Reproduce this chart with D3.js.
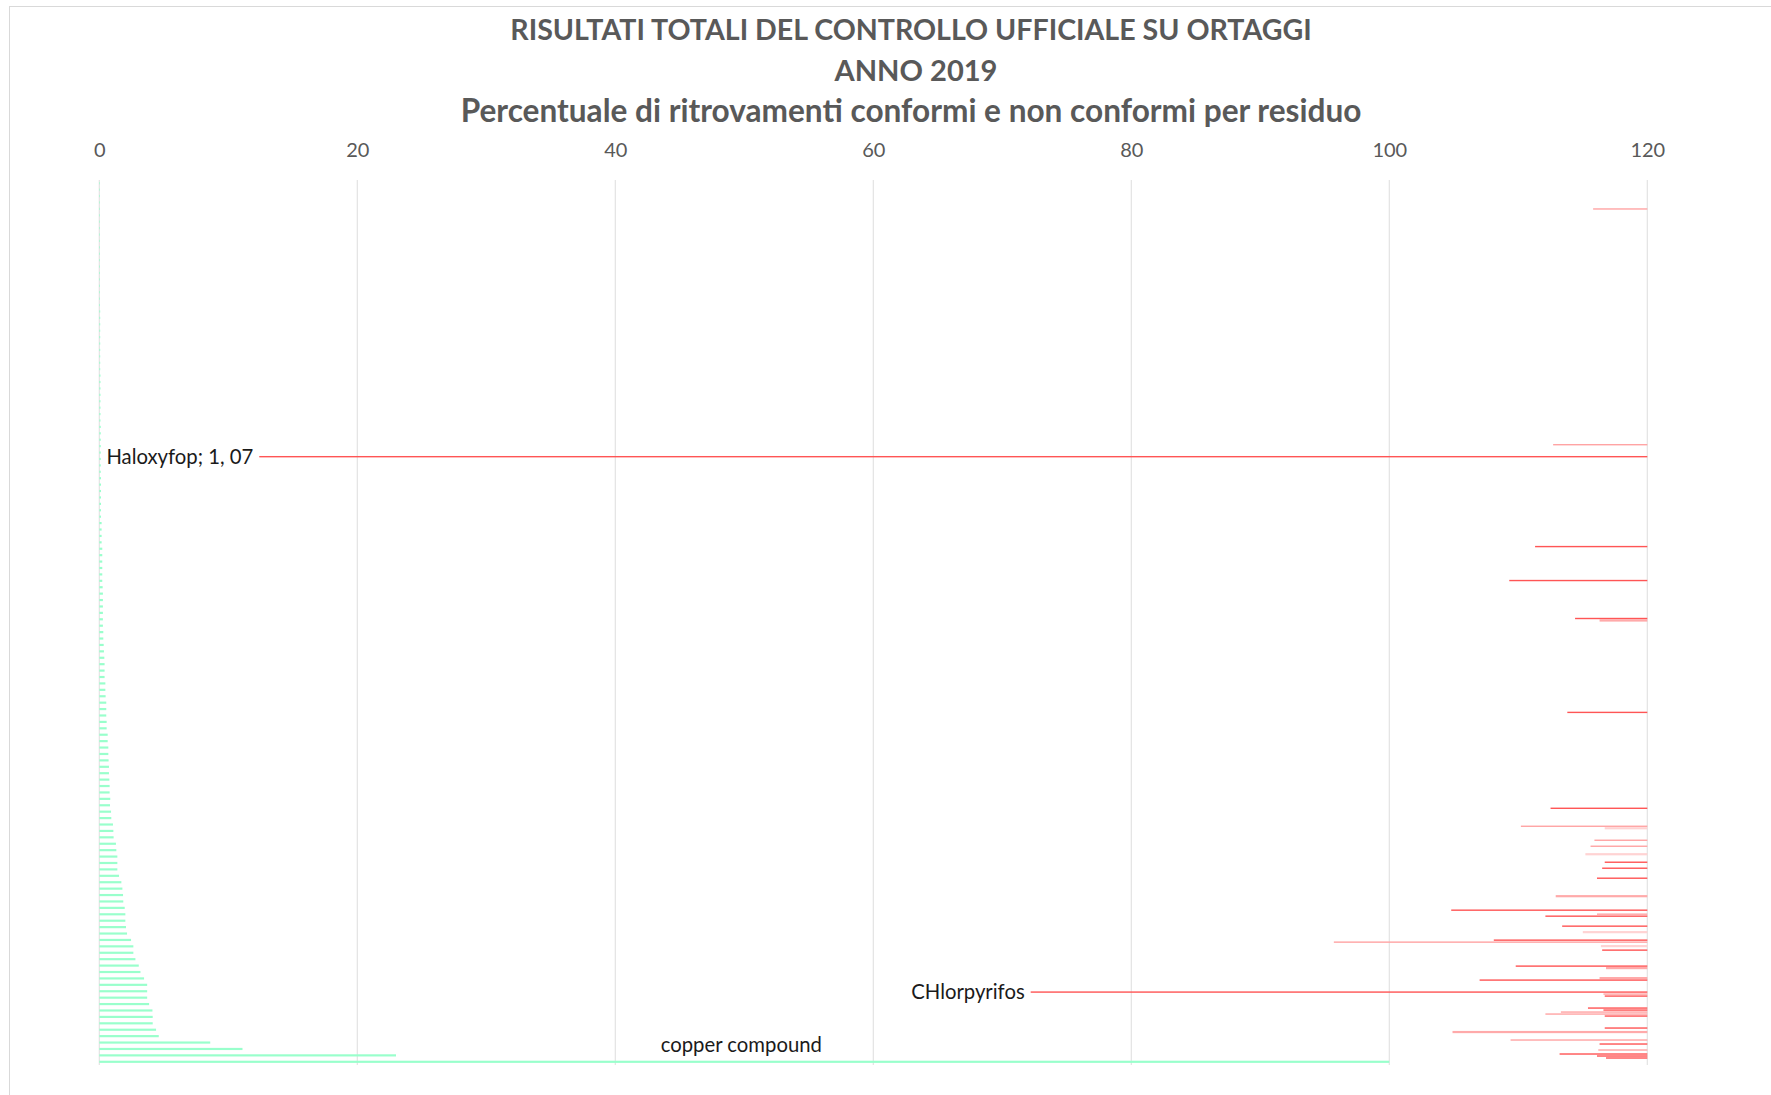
<!DOCTYPE html>
<html>
<head>
<meta charset="utf-8">
<script src="https://cdn.jsdelivr.net/npm/d3@7"></script>
<style>
  html, body { margin: 0; padding: 0; background: #ffffff; }
  svg { display: block; }
</style>
</head>
<body>
<svg id="chart" width="1771" height="1095"></svg>
<script>
// ---------------- DATA ----------------
const titleLines = [
  "RISULTATI TOTALI DEL CONTROLLO UFFICIALE SU ORTAGGI",
  "ANNO 2019",
  "Percentuale di ritrovamenti conformi e non conformi per residuo"
];
const xTicks = [0, 20, 40, 60, 80, 100, 120];

// Conformi (%), one value per residue, top to bottom (138 residues)
const conformi = [
  0.03, 0.03, 0.03, 0.03, 0.03, 0.03, 0.03, 0.03, 0.03, 0.03,
  0.05, 0.05, 0.05, 0.05, 0.05, 0.05, 0.05, 0.05, 0.05, 0.05,
  0.07, 0.07, 0.07, 0.07, 0.07, 0.07, 0.07, 0.07, 0.07, 0.07,
  0.09, 0.09, 0.09, 0.09, 0.09, 0.09, 0.09, 0.09,
  0.11, 0.11, 0.11, 0.11, 0.11, 0.11, 0.11, 0.11,
  0.13, 0.13, 0.13, 0.13, 0.13, 0.13, 0.13,
  0.18, 0.18, 0.18, 0.18, 0.23, 0.23, 0.23, 0.23, 0.23, 0.23,
  0.26, 0.28, 0.28, 0.28, 0.28, 0.28, 0.28, 0.31, 0.31, 0.34,
  0.36, 0.39, 0.41, 0.41, 0.41, 0.47, 0.47, 0.49, 0.54, 0.54,
  0.54, 0.57, 0.57, 0.65, 0.65, 0.70, 0.70, 0.72, 0.75, 0.75,
  0.78, 0.80, 0.80, 0.85,
  0.83, 0.91, 0.93, 1.06, 1.09, 1.11, 1.29, 1.32, 1.40, 1.40,
  1.40, 1.53, 1.71, 1.79, 1.84, 1.86, 1.97, 2.02, 2.02, 2.07,
  2.15, 2.46, 2.64, 2.64, 2.80, 3.06, 3.19, 3.47, 3.71, 3.71,
  3.71, 3.86, 4.12, 4.14, 4.14, 4.40, 4.61, 8.6, 11.1, 23.0,
  100
];

// Non conformi: secondary (reversed, hidden) axis 0-1.2, rows on a secondary category axis (443 rows)
const ncDarkRows = [138, 183, 200, 219, 266, 314, 341, 344, 349, 365, 368, 373, 380, 385, 393, 400, 406, 408, 414, 415, 418, 424, 432, 437, 438, 439];
const ncDarkVals = [1.076, 0.087, 0.107, 0.056, 0.062, 0.075, 0.033, 0.035, 0.039, 0.152, 0.079, 0.066, 0.119, 0.035, 0.102, 0.130, 0.478, 0.033, 0.046, 0.034, 0.033, 0.033, 0.037, 0.068, 0.039, 0.032];

const ncLightRows = [14, 132, 323, 330, 333, 367, 381, 407, 416, 417, 430, 435];
const ncLightVals = [0.042, 0.073, 0.098, 0.041, 0.044, 0.039, 0.243, 0.034, 0.067, 0.079, 0.106, 0.038];

const ncThickRows = [220, 358, 394, 399, 426];
const ncThickVals = [0.037, 0.071, 0.032, 0.037, 0.151];

const ncPaleRows = [324, 337, 376, 383];
const ncPaleVals = [0.033, 0.048, 0.050, 0.036];

const annotations = [
  { text: "Haloxyfop; 1, 07", series: "dark", row: 138, value: 1.076 },
  { text: "CHlorpyrifos", series: "dark", row: 406, value: 0.478 }
];
const greenLabel = { text: "copper compound", index: 137 };

// ---------------- LAYOUT ----------------
const svg = d3.select("#chart");
const W = 1771, H = 1095;
const plot = { left: 99.3, right: 1647.3, top: 180, bottom: 1065 };
const FONT = "Lato, 'Open Sans', sans-serif";

const x = d3.scaleLinear().domain([0, 120]).range([plot.left, plot.right]);
const xr = d3.scaleLinear().domain([0, 1.2]).range([plot.right, plot.left]);

const yG = d3.scaleBand().domain(d3.range(conformi.length))
  .range([plot.top, plot.bottom]).paddingInner(0.66).paddingOuter(0.33);
const nRows = 443;
const yR = d3.scaleBand().domain(d3.range(nRows)).range([plot.top, plot.bottom]);

// chart border
svg.append("rect").attr("x", 9.5).attr("y", 6.5).attr("width", W + 20).attr("height", H + 20)
  .attr("fill", "#fff").attr("stroke", "#d9d9d9").attr("stroke-width", 1);

// title
const titleTargets = [802, 163, 901];
const titleX = [911, 916, 911];
const titleY = [40, 81, 122];
titleLines.forEach((t, i) => {
  const txt = svg.append("text")
    .attr("x", titleX[i]).attr("y", titleY[i])
    .attr("text-anchor", "middle")
    .attr("font-family", FONT).attr("font-weight", 700)
    .attr("font-size", 26).attr("fill", "#595959")
    .text(t);
  const w = txt.node().getComputedTextLength();
  txt.attr("font-size", 26 * titleTargets[i] / w);
});

// gridlines
svg.append("g").selectAll("line").data(xTicks).join("line")
  .attr("x1", d => x(d)).attr("x2", d => x(d))
  .attr("y1", plot.top).attr("y2", plot.bottom)
  .attr("stroke", "#e3e3e3").attr("stroke-width", 1.2);

// top axis labels
const axis = d3.axisTop(x).tickValues(xTicks).tickSize(0).tickPadding(0).tickFormat(d3.format("d"));
const gAxis = svg.append("g").attr("transform", `translate(0,157)`).call(axis);
gAxis.select(".domain").remove();
gAxis.selectAll("text").attr("font-family", FONT).attr("font-size", 20).attr("fill", "#595959");

// green bars (conformi)
svg.append("g").selectAll("rect").data(conformi).join("rect")
  .attr("x", x(0))
  .attr("y", (d, i) => yG(i))
  .attr("width", d => Math.max(0.6, x(d) - x(0)))
  .attr("height", yG.bandwidth())
  .attr("fill", "#99ffcc");

// red bars (non conformi) on reversed secondary axis
function redSeries(rows, vals, color, thick, cls) {
  const data = rows.map((r, i) => ({ row: r, value: vals[i] }));
  svg.append("g").attr("class", cls).selectAll("rect").data(data).join("rect")
    .attr("x", d => xr(d.value))
    .attr("y", d => yR(d.row) + yR.bandwidth() / 2 - thick / 2)
    .attr("width", d => xr(0) - xr(d.value))
    .attr("height", thick)
    .attr("fill", color);
}
redSeries(ncPaleRows, ncPaleVals, "#ffd3d3", 2.2, "pale");
redSeries(ncThickRows, ncThickVals, "#ffaaaa", 2.2, "thick");
redSeries(ncLightRows, ncLightVals, "#ffa4a4", 1.4, "light");
redSeries(ncDarkRows, ncDarkVals, "#ff5555", 1.4, "dark");

// annotations
annotations.forEach(a => {
  svg.append("text")
    .attr("x", xr(a.value) - 6)
    .attr("y", yR(a.row) + yR.bandwidth() / 2 + 7)
    .attr("text-anchor", "end")
    .attr("font-family", FONT).attr("font-size", 20.3).attr("fill", "#1a1a1a")
    .text(a.text);
});
svg.append("text")
  .attr("x", (x(0) + x(conformi[greenLabel.index])) / 2 - 3)
  .attr("y", yG(greenLabel.index) - 9)
  .attr("text-anchor", "middle")
  .attr("font-family", FONT).attr("font-size", 20.3).attr("fill", "#1a1a1a")
  .text(greenLabel.text);
</script>
</body>
</html>
